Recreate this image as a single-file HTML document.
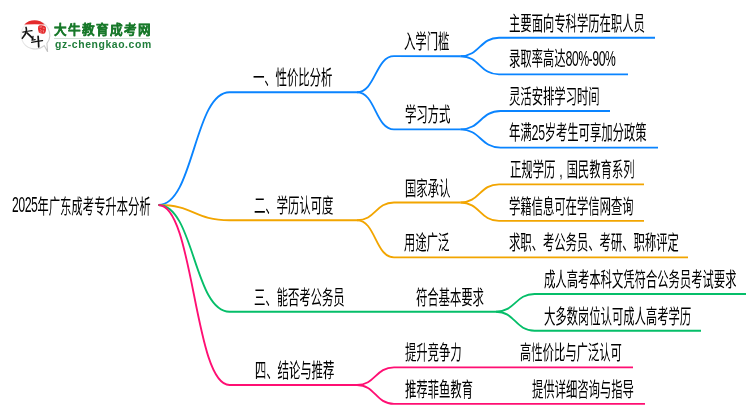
<!DOCTYPE html>
<html lang="zh-CN"><head><meta charset="utf-8"><title>2025年广东成考专升本分析</title>
<style>
html,body{margin:0;padding:0;background:#fff;}
body{width:750px;height:410px;overflow:hidden;position:relative;font-family:"Liberation Sans",sans-serif;}
svg.m{position:absolute;left:0;top:0;}
svg.m path{fill:none;stroke-width:1.85;stroke-linecap:butt;}
.d{font-size:21.5px;position:relative;top:0.8px;letter-spacing:-0.3px;}
.t{position:absolute;white-space:nowrap;font-size:20px;line-height:20px;transform:scaleX(0.566);transform-origin:0 0;will-change:transform;}
</style></head><body>
<svg class="m" width="750" height="410" viewBox="0 0 750 410">
<path d="M158.5,205 C194.0,205 194.0,92.2 229.5,92.2 H357" stroke="#0a84ff"/>
<path d="M357,92.2 C375.5,92.2 375.5,56.2 394,56.2 H460.5" stroke="#0a84ff"/>
<path d="M357,92.2 C375.5,92.2 375.5,129.4 394,129.4 H460.5" stroke="#0a84ff"/>
<path d="M460.5,56.2 C479.75,56.2 479.75,37.7 499,37.7 H655" stroke="#0a84ff"/>
<path d="M460.5,56.2 C479.75,56.2 479.75,74.4 499,74.4 H628" stroke="#0a84ff"/>
<path d="M460.5,129.4 C480.5,129.4 480.5,111.0 500.5,111.0 H610" stroke="#0a84ff"/>
<path d="M460.5,129.4 C480.5,129.4 480.5,147.6 500.5,147.6 H658" stroke="#0a84ff"/>
<path d="M158.5,205 C194.0,205 194.0,220.2 229.5,220.2 H357" stroke="#f2a500"/>
<path d="M357,220.2 C375.5,220.2 375.5,202.5 394,202.5 H460.5" stroke="#f2a500"/>
<path d="M357,220.2 C375.5,220.2 375.5,257.4 394,257.4 H688" stroke="#f2a500"/>
<path d="M460.5,202.5 C479.75,202.5 479.75,184.3 499,184.3 H644" stroke="#f2a500"/>
<path d="M460.5,202.5 C479.75,202.5 479.75,220.8 499,220.8 H644" stroke="#f2a500"/>
<path d="M158.5,205 C194.0,205 194.0,311.7 229.5,311.7 H496" stroke="#05be69"/>
<path d="M496,311.7 C515.25,311.7 515.25,294.0 534.5,294.0 H746" stroke="#05be69"/>
<path d="M496,311.7 C515.25,311.7 515.25,330.7 534.5,330.7 H701" stroke="#05be69"/>
<path d="M158.5,205 C194.0,205 194.0,385 229.5,385 H357" stroke="#ff0f73"/>
<path d="M357,385 C375.5,385 375.5,367.4 394,367.4 H633" stroke="#ff0f73"/>
<path d="M357,385 C375.5,385 375.5,403.8 394,403.8 H645" stroke="#ff0f73"/>
</svg>
<div class="t" style="left:11.5px;top:197.2px;color:#000"><span class="d" style="top:-1.6px;letter-spacing:-0.75px">2025</span>年广东成考专升本分析</div>
<div class="t" style="left:252.7px;top:67.8px;color:#000">一、性价比分析</div>
<div class="t" style="left:253.8px;top:196.3px;color:#000">二、学历认可度</div>
<div class="t" style="left:253.8px;top:287.9px;color:#000">三、能否考公务员</div>
<div class="t" style="left:255.1px;top:360.8px;color:#000">四、结论与推荐</div>
<div class="t" style="left:404.2px;top:31.8px;color:#000">入学门槛</div>
<div class="t" style="left:405.0px;top:105.0px;color:#000">学习方式</div>
<div class="t" style="left:405.1px;top:179.1px;color:#000">国家承认</div>
<div class="t" style="left:404.1px;top:232.7px;color:#000">用途广泛</div>
<div class="t" style="left:416.3px;top:287.7px;color:#000">符合基本要求</div>
<div class="t" style="left:404.5px;top:343.4px;color:#000">提升竞争力</div>
<div class="t" style="left:405.1px;top:379.8px;color:#000">推荐菲鱼教育</div>
<div class="t" style="left:509.4px;top:13.9px;color:#000">主要面向专科学历在职人员</div>
<div class="t" style="left:508.8px;top:49.4px;color:#000">录取率高达<span class="d" style="top:-0.1px;letter-spacing:-0.75px">80%-90%</span></div>
<div class="t" style="left:508.8px;top:86.5px;color:#000">灵活安排学习时间</div>
<div class="t" style="left:508.9px;top:122.8px;color:#000">年满<span class="d" style="top:-0.2px">25</span>岁考生可享加分政策</div>
<div class="t" style="left:510.3px;top:160.2px;color:#000">正规学历<span style="display:inline-block;width:1em;text-align:center">,</span>国民教育系列</div>
<div class="t" style="left:508.9px;top:196.9px;color:#000">学籍信息可在学信网查询</div>
<div class="t" style="left:509.0px;top:233.2px;color:#000">求职、考公务员、考研、职称评定</div>
<div class="t" style="left:543.7px;top:269.9px;color:#000">成人高考本科文凭符合公务员考试要求</div>
<div class="t" style="left:544.4px;top:306.9px;color:#000">大多数岗位认可成人高考学历</div>
<div class="t" style="left:520.3px;top:343.3px;color:#000">高性价比与广泛认可</div>
<div class="t" style="left:532.3px;top:380.4px;color:#000">提供详细咨询与指导</div>
<svg class="logo" width="60" height="60" viewBox="0 0 60 60" style="position:absolute;left:0;top:0">
<defs>
<linearGradient id="bg" x1="0" y1="0" x2="1" y2="1">
<stop offset="0" stop-color="#f6f6f6"/><stop offset="0.6" stop-color="#dcdcdc"/><stop offset="1" stop-color="#bdbdbd"/>
</linearGradient>
</defs>
<path d="M35,21 A14,14 0 1 0 44.2,45.6 L47.6,51.8 L46.9,43.4 A14,14 0 0 0 35,21 Z" fill="#fff" stroke="url(#bg)" stroke-width="1.1"/>
<path d="M24.2,24.6 A14.1,14.1 0 0 1 44.8,24.6 Q34.5,23.9 24.2,24.6 Z" fill="#e42a2c"/>
<path d="M39.6,25.3 Q44.5,24.6 45.8,27 Q46.6,31.5 44.6,33.4 Q41,34.3 38.8,32.6 Q37.4,29.5 38.2,26.6 Q38.6,25.6 39.6,25.3 Z" fill="#e52b2d"/>
<g stroke="#fff" stroke-width="0.6" fill="none" opacity="0.75">
<path d="M39.6,27.2 L42,26.8 M40.2,29.5 L41.6,30.6 M42.8,28 L44.6,28.4 M43.2,30.2 L43.6,32.4 M39.8,31.8 L41.6,32.2"/>
</g>
<g fill="none" stroke="#151515" stroke-linecap="round" stroke-linejoin="round">
<path d="M26,27.4 Q26.7,29 26.3,31 Q25.6,35 22.3,38.3" stroke-width="1.6"/>
<path d="M22.9,32.2 Q27.5,31.2 32,30.7" stroke-width="1.3"/>
<path d="M27,32.9 Q30,35.8 32.7,38.3" stroke-width="1.8"/>
<path d="M33,36.4 Q32.6,38.6 32,40.2 L35.2,39.6" stroke-width="1.3"/>
<path d="M31.7,42.4 Q37,41.3 42.5,40.6" stroke-width="1.4"/>
<path d="M38.1,36.4 Q38.6,41.5 38.7,46.8" stroke-width="1.7"/>
</g>
</svg>
<div style="position:absolute;left:54.4px;top:23.2px;font:900 12.6px/14px 'Liberation Sans',sans-serif;letter-spacing:1.05px;color:#18792a;-webkit-text-stroke:0.35px #18792a;white-space:nowrap;will-change:transform">大牛教育成考网</div>
<div style="position:absolute;left:54px;top:38.1px;width:96px;height:1.3px;background:#cfdfd3"></div>
<div class="url" style="position:absolute;left:55px;top:38.5px;font:bold 10.4px/12px 'Liberation Sans',sans-serif;color:#1f7d3a;white-space:nowrap;letter-spacing:0.6px;will-change:transform">gz-chengkao.com</div>

</body></html>
